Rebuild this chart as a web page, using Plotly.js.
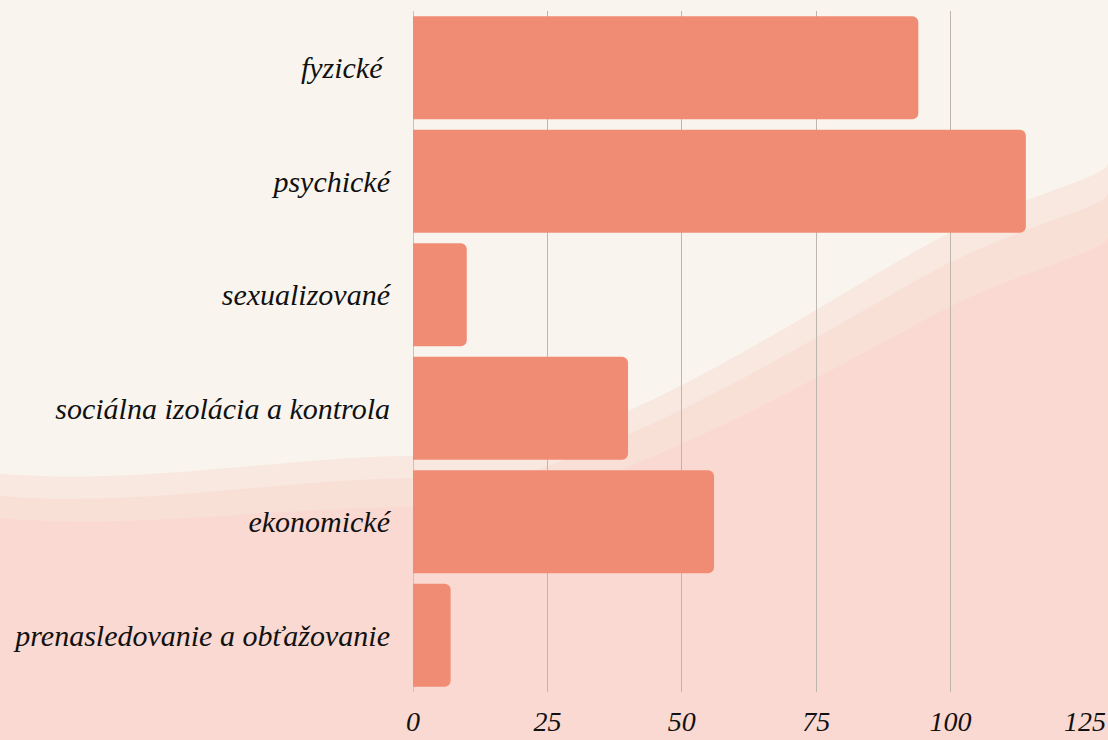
<!DOCTYPE html>
<html>
<head>
<meta charset="utf-8">
<script src="https://cdn.plot.ly/plotly-3.0.1.min.js"></script>
<style>html,body{margin:0;padding:0;background:#F9F5EE;}#chart{width:1108px;height:740px;}</style>
</head>
<body>
<div id="chart"></div>
<script>
const categories = ["fyzické ", "psychické", "sexualizované", "sociálna izolácia a kontrola", "ekonomické", "prenasledovanie a obťažovanie"];
const values = [94, 114, 10, 40, 56, 7];
const xTicks = [0, 25, 50, 75, 100, 125];

const fontFam = "Liberation Serif";

// soft pink watercolour-like background washes (decorative)
const washes = [
  {path: "M 0,0.36 C 0.15,0.34 0.3,0.40 0.45,0.38 C 0.6,0.44 0.75,0.60 0.85,0.68 C 0.93,0.74 1,0.76 1,0.78 L 1,0 L 0,0 Z", op: 0.35},
  {path: "M 0,0.33 C 0.15,0.31 0.3,0.37 0.45,0.35 C 0.6,0.41 0.75,0.56 0.85,0.64 C 0.93,0.70 1,0.72 1,0.74 L 1,0 L 0,0 Z", op: 0.35},
  {path: "M 0,0.30 C 0.15,0.28 0.3,0.33 0.45,0.31 C 0.6,0.37 0.75,0.50 0.85,0.58 C 0.93,0.64 1,0.66 1,0.68 L 1,0 L 0,0 Z", op: 0.4}
];
const shapes = washes.map(w => ({
  type: "path", xref: "paper", yref: "paper", layer: "below",
  path: w.path.replace(/([0-9.]+),([0-9.]+)/g, (m, a, b) => {
    const fx = parseFloat(a), fy = parseFloat(b);
    const px = (fx * 1108 - 413) / (1108 - 413 - 23);
    const py = (fy * 740 - 48) / (740 - 11 - 48);
    return px.toFixed(4) + "," + py.toFixed(4);
  }),
  fillcolor: "#FAD0C7", opacity: w.op, line: {width: 0}
}));

const trace = {
  type: "bar",
  orientation: "h",
  y: categories,
  x: values,
  marker: {color: "#F18C74", line: {width: 0}},
  hoverinfo: "x+y"
};

const layout = {
  width: 1108, height: 740,
  margin: {l: 413, r: 23, t: 11, b: 48},
  paper_bgcolor: "#F9F5EE",
  plot_bgcolor: "rgba(0,0,0,0)",
  bargap: 0.093,
  barcornerradius: 6,
  showlegend: false,
  shapes: shapes,
  xaxis: {
    range: [0, 125],
    tickvals: xTicks,
    ticktext: xTicks.map(String),
    showgrid: true,
    gridcolor: "#BDB6AE",
    gridwidth: 1,
    zeroline: true,
    zerolinecolor: "#C8C2BA",
    zerolinewidth: 1,
    showline: false,
    ticks: "",
    ticklabelstandoff: 10,
    tickfont: {family: fontFam, size: 28, color: "#111111", style: "italic"},
    fixedrange: true
  },
  yaxis: {
    autorange: "reversed",
    showgrid: false,
    zeroline: false,
    showline: false,
    ticks: "",
    ticklabelstandoff: 22,
    tickfont: {family: fontFam, size: 30, color: "#111111", style: "italic"},
    fixedrange: true
  }
};

Plotly.newPlot("chart", [trace], layout, {displayModeBar: false, staticPlot: true});
</script>
</body>
</html>
